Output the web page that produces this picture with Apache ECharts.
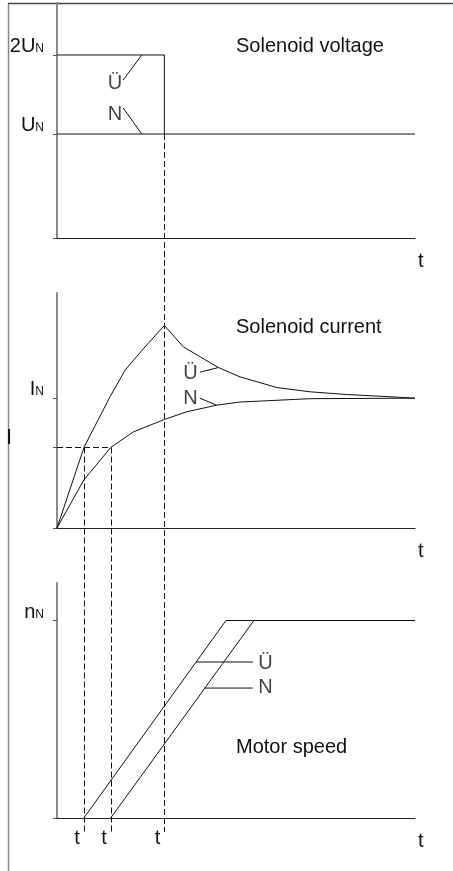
<!DOCTYPE html>
<html>
<head>
<meta charset="utf-8">
<script src="https://cdn.jsdelivr.net/npm/echarts@6.0.0/dist/echarts.min.js"></script>
<style>
html, body { margin: 0; padding: 0; background: #ffffff; }
#chart { width: 453px; height: 871px; }
</style>
</head>
<body>
<div id="chart"></div>
<script>
// time axis in drawing units 0..100, switching times t1, t2, t3
var tMarks = [7.5, 15, 30];
var tLabels = ['t', 't', 't'];

// solenoid voltage (drawing units, U_N = 1, 2U_N is drawn at 1.76)
var voltTicks = [1, 1.76];
var voltLabels = ['U{s|N}', '2U{s|N}'];
var voltOver = [[0, 1.76], [30, 1.76], [30, 1]];
var voltNorm = [[0, 1], [100, 1]];

// solenoid current (per unit of I_N)
var curPick = 0.62;
var curTicks = [1];
var curLabels = ['I{s|N}'];
var curOver = [[0, 0], [7.6, 0.625], [14.8, 1.01], [19, 1.215], [24.1, 1.38], [30, 1.56], [35.3, 1.395],
  [45.1, 1.236], [51.1, 1.164], [61.4, 1.082], [70.7, 1.049], [80.9, 1.028], [90.2, 1.015], [100, 1.0]];
var curNorm = [[0, 0], [7.5, 0.37], [15, 0.62], [21.3, 0.74], [30, 0.836], [36.2, 0.895], [44.6, 0.946],
  [51, 0.97], [70.7, 0.996], [100, 1.0]];

// motor speed (per unit of n_N)
var speedTicks = [1];
var speedLabels = ['n{s|N}'];
var speedOver = [[7.5, 0], [47.2, 1], [100, 1]];
var speedNorm = [[15, 0], [55, 1], [100, 1]];

// curve tags and their leader lines: [t, y, text]
var tagsVolt = [[16.2, 1.49, 'Ü'], [16.2, 1.19, 'N']];
var leadVolt = [[[18.5, 1.52], [23.7, 1.76]], [[18.5, 1.25], [23.7, 1]]];
var tagsCur = [[37.3, 1.19, 'Ü'], [37.3, 1.0, 'N']];
var leadCur = [[[39.9, 1.2], [45.1, 1.236]], [[39.9, 1.0], [44.6, 0.946]]];
var tagsSpeed = [[58.2, 0.78, 'Ü'], [58.2, 0.66, 'N']];
var leadSpeed = [[[38.8, 0.79], [54.7, 0.79]], [[41.3, 0.658], [54.7, 0.658]]];

var titles = ['Solenoid voltage', 'Solenoid current', 'Motor speed'];

var ink = '#111';
var font = 'Liberation Sans, Arial, sans-serif';
var myChart = echarts.init(document.getElementById('chart'));

function pick(ticks, labels) {
  return function (v) {
    for (var i = 0; i < ticks.length; i++) {
      if (Math.abs(ticks[i] - v) < 1e-6) return labels[i];
    }
    return '';
  };
}

function xAx(grid, bottomLabels) {
  return {
    type: 'value', gridIndex: grid, min: 0, max: 100,
    splitLine: { show: false },
    axisTick: { show: false },
    axisLine: { lineStyle: { color: '#222', width: 1 } },
    axisLabel: bottomLabels ? {
      customValues: tMarks, formatter: pick(tMarks, tLabels),
      fontSize: 20, fontFamily: font, color: ink, align: 'right', padding: [0, 4, 0, 0], margin: 10
    } : { show: false },
    name: 't', nameLocation: 'end', nameGap: 3,
    nameTextStyle: { fontSize: 20, fontFamily: font, color: ink, align: 'left', verticalAlign: 'top', padding: [13, 0, 0, 0] }
  };
}

function yAx(grid, max, tickVals, labVals, labels) {
  return {
    type: 'value', gridIndex: grid, min: 0, max: max,
    splitLine: { show: false },
    axisLine: { show: true, lineStyle: { color: '#8a8a8a', width: 2 } },
    axisTick: { show: true, customValues: tickVals, length: 4, lineStyle: { color: '#555' } },
    axisLabel: {
      customValues: labVals, formatter: pick(labVals, labels), margin: 13,
      fontSize: 20, fontFamily: font, color: ink, verticalAlign: 'bottom', lineHeight: 17,
      rich: { s: { fontSize: 12, fontFamily: font, color: ink, verticalAlign: 'bottom', lineHeight: 12 } }
    }
  };
}

function curve(grid, data, dashed) {
  return {
    type: 'line', xAxisIndex: grid, yAxisIndex: grid, data: data, symbol: 'none', silent: true,
    lineStyle: { color: ink, width: 1, type: dashed ? [6, 3] : 'solid' }
  };
}

function tags(grid, data) {
  return {
    type: 'scatter', xAxisIndex: grid, yAxisIndex: grid, data: data, symbolSize: 0, silent: true,
    label: {
      show: true, position: 'inside', fontSize: 20, fontFamily: font, color: ink,
      formatter: function (p) { return p.value[2]; }
    }
  };
}

var series = [
  curve(0, voltOver), curve(0, voltNorm),
  curve(1, curOver), curve(1, curNorm), curve(1, [[0, curPick], [15, curPick]], true),
  curve(2, speedOver), curve(2, speedNorm),
  tags(0, tagsVolt), tags(1, tagsCur), tags(2, tagsSpeed)
];
leadVolt.forEach(function (l) { series.push(curve(0, l)); });
leadCur.forEach(function (l) { series.push(curve(1, l)); });
leadSpeed.forEach(function (l) { series.push(curve(2, l)); });

var option = {
  animation: false,
  backgroundColor: '#ffffff',
  title: [
    { text: titles[0], left: 231, top: 31, textStyle: { fontSize: 20, fontWeight: 'normal', fontFamily: font, color: ink } },
    { text: titles[1], left: 231, top: 312, textStyle: { fontSize: 20, fontWeight: 'normal', fontFamily: font, color: ink } },
    { text: titles[2], left: 231, top: 732, textStyle: { fontSize: 20, fontWeight: 'normal', fontFamily: font, color: ink } }
  ],
  grid: [
    { left: 57, right: 38, top: 3, height: 235 },
    { left: 57, right: 38, top: 293, height: 235 },
    { left: 57, right: 38, top: 583, height: 235 }
  ],
  xAxis: [xAx(0, false), xAx(1, false), xAx(2, true)],
  yAxis: [
    yAx(0, 2.26, [0, 1, 1.76], voltTicks, voltLabels),
    yAx(1, 1.81, [0, curPick, 1], curTicks, curLabels),
    yAx(2, 1.19, [0, 1], speedTicks, speedLabels)
  ],
  series: series
};
myChart.setOption(option);

// dashed switching lines run from one panel down through the ones below
function px(grid, pt) {
  return myChart.convertToPixel({ gridIndex: grid }, pt);
}
var drops = [
  [0, [tMarks[2], 1]],
  [1, [tMarks[0], curPick]],
  [1, [tMarks[1], curPick]]
];
var graphics = [];
drops.forEach(function (d) {
  var a = px(d[0], d[1]);
  var b = px(2, [d[1][0], -0.07]);
  var x = Math.round(a[0]) + 0.5;
  graphics.push({
    type: 'line', silent: true,
    shape: { x1: x, y1: a[1], x2: x, y2: b[1] },
    style: { stroke: ink, lineWidth: 1, lineDash: [6, 3] }
  });
});
// frame edges of the figure
graphics.push({ type: 'line', silent: true, shape: { x1: 8.5, y1: 3, x2: 8.5, y2: 871 }, style: { stroke: '#888', lineWidth: 1.5 } });
graphics.push({ type: 'line', silent: true, shape: { x1: 8, y1: 3.5, x2: 453, y2: 3.5 }, style: { stroke: '#444', lineWidth: 1.5 } });
// quantity symbol of the middle panel
var iPos = px(1, [0, 0.7]);
graphics.push({
  type: 'text', silent: true, x: 9, y: iPos[1] + 1,
  style: { text: 'I', fontSize: 22, fontFamily: font, fill: '#111', align: 'center', verticalAlign: 'middle' }
});
myChart.setOption({ graphic: graphics });
</script>
</body>
</html>
